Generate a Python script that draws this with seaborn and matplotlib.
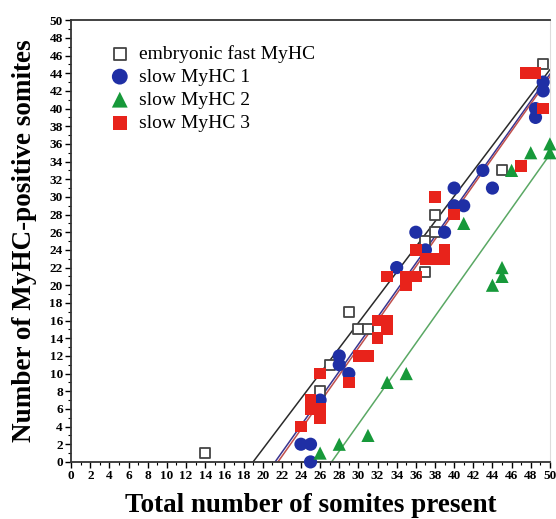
import numpy as np
import pandas as pd
import seaborn as sns
import matplotlib.pyplot as plt
from matplotlib.ticker import MultipleLocator

# --- data ---
fast_x = [14, 26, 27, 29, 30, 31, 32, 37, 37, 38, 38, 45, 49.3]
fast_y = [1, 8, 11, 17, 15, 15, 15, 21.5, 25, 26, 28, 33, 45]

slow1_x = [24, 25, 25, 26, 28, 28, 29, 34, 36, 37, 39, 40, 40, 41, 43, 44, 48.5, 48.5, 49.3, 49.3]
slow1_y = [2, 2, 0, 7, 12, 11, 10, 22, 26, 24, 26, 29, 31, 29, 33, 31, 40, 39, 43, 42]

slow2_x = [26, 28, 31, 33, 35, 41, 44, 45, 45, 46, 48, 50, 50]
slow2_y = [1, 2, 3, 9, 10, 27, 20, 21, 22, 33, 35, 36, 35]

slow3_x = [24, 25, 25, 26, 26, 26, 29, 30, 31, 32, 32, 33, 33, 33, 35, 35, 36, 36,
           37, 38, 38, 39, 39, 40, 47, 47.5, 48.5, 49.3]
slow3_y = [4, 7, 6, 6, 5, 10, 9, 12, 12, 16, 14, 16, 15, 21, 21, 20, 21, 24,
           23, 23, 30, 24, 23, 28, 33.5, 44, 44, 40]

# fitted lines as drawn: x where line meets 0, and y at x = 50
line_names = ['fast', 'slow1', 'slow2', 'slow3']
line_x0 = [19.0, 21.3, 27.2, 21.6]
line_y50 = [44.4, 43.9, 34.8, 43.6]
line_colors = ['#2a2a2a', '#3a3590', '#5aa864', '#c0504d']

plt.rcParams['font.family'] = ['Liberation Serif', 'DejaVu Serif']

fig, ax = plt.subplots(figsize=(5.56, 5.19), dpi=100)
fig.subplots_adjust(left=0.128, right=0.989, top=0.961, bottom=0.110)

# regression lines
xs = np.linspace(0, 50, 200)
for x0, y50, c in zip(line_x0, line_y50, line_colors):
    slope = y50 / (50 - x0)
    ax.plot(xs, slope * (xs - x0), color=c, lw=1.1, zorder=2)

sns.scatterplot(x=fast_x, y=fast_y, ax=ax, marker='s', s=55, facecolor='white',
                edgecolor='#444444', linewidth=1.3, label='embryonic fast MyHC',
                zorder=3, clip_on=False)
sns.scatterplot(x=slow1_x, y=slow1_y, ax=ax, marker='o', s=90, color='#1f2fa5',
                edgecolor='none', label='slow MyHC 1', zorder=3, clip_on=False)
sns.scatterplot(x=slow2_x, y=slow2_y, ax=ax, marker='^', s=90, color='#17993a',
                edgecolor='none', label='slow MyHC 2', zorder=3, clip_on=False)
sns.scatterplot(x=slow3_x, y=slow3_y, ax=ax, marker='s', s=72, color='#e8231b',
                edgecolor='none', label='slow MyHC 3', zorder=3, clip_on=False)

ax.set_xlim(0, 50)
ax.set_ylim(0, 50)
ax.xaxis.set_major_locator(MultipleLocator(2))
ax.xaxis.set_minor_locator(MultipleLocator(1))
ax.yaxis.set_major_locator(MultipleLocator(2))
ax.yaxis.set_minor_locator(MultipleLocator(1))
ax.tick_params(which='major', direction='out', length=4, width=1, labelsize=9.5, pad=2)
ax.tick_params(which='minor', direction='out', length=2.5, width=0.8)
for lab in ax.get_xticklabels() + ax.get_yticklabels():
    lab.set_fontweight('bold')

for side in ['top', 'left', 'bottom']:
    ax.spines[side].set_color('#333333')
    ax.spines[side].set_linewidth(1.3)
ax.spines['right'].set_color('#dddddd')

ax.set_xlabel('Total number of somites present', fontsize=19.5, fontweight='bold', labelpad=8)
ax.set_ylabel('Number of MyHC-positive somites', fontsize=19.5, fontweight='bold', labelpad=9)

ax.legend(loc='upper left', bbox_to_anchor=(0.065, 0.962), frameon=False, fontsize=14,
          handletextpad=0.5, labelspacing=0.28, borderaxespad=0, handlelength=1.0,
          markerscale=1.2)

fig.savefig('out.png', dpi=100)
